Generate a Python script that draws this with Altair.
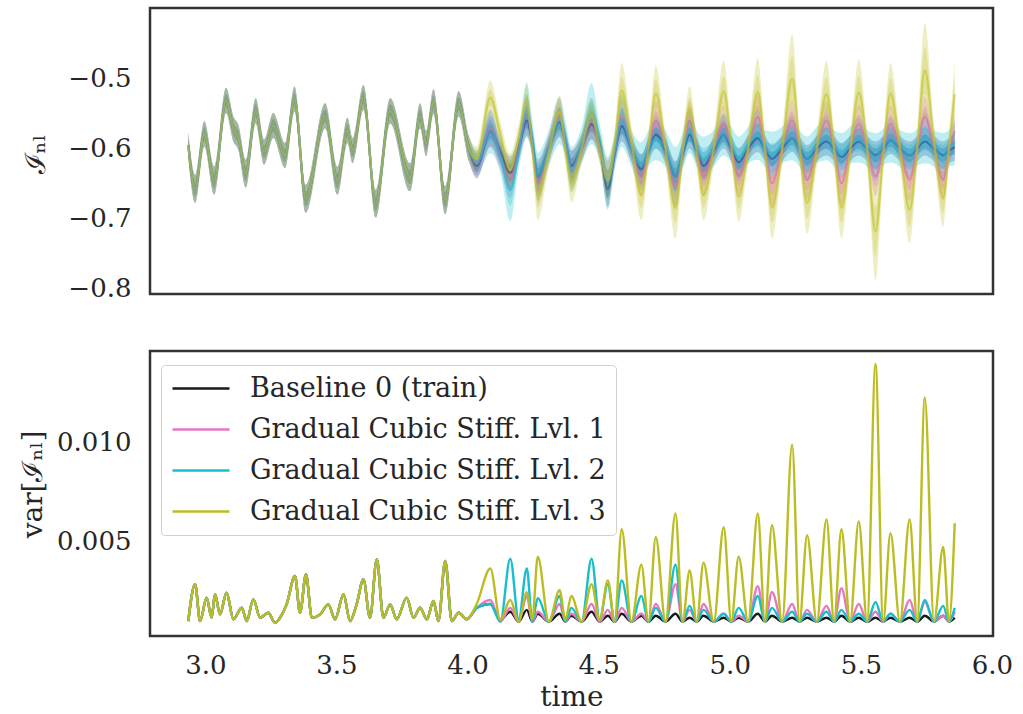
import altair as alt
import pandas as pd

series = ["Baseline 0 (train)", "Gradual Cubic Stiff. Lvl. 1",
          "Gradual Cubic Stiff. Lvl. 2", "Gradual Cubic Stiff. Lvl. 3"]
line_colors = ["#1a1a1a", "#e377c2", "#17becf", "#bcbd22"]
band_colors = ["#2f4594", "#e06a9e", "#17becf", "#c2c22a"]

# ---- shared history (all runs identical before ~4.03) ----
t_early = [2.935, 2.961, 2.996, 3.034, 3.079, 3.107, 3.126, 3.154, 3.192, 3.224,
           3.259, 3.304, 3.340, 3.383, 3.457, 3.504, 3.542, 3.562, 3.603, 3.650,
           3.705, 3.781, 3.819, 3.842, 3.870, 3.915, 3.966, 4.005]
mean_early = [-0.595, -0.658, -0.579, -0.646, -0.531, -0.572, -0.584, -0.636, -0.546, -0.605,
              -0.567, -0.610, -0.529, -0.672, -0.553, -0.646, -0.574, -0.603, -0.527, -0.679,
              -0.546, -0.641, -0.553, -0.593, -0.533, -0.674, -0.536, -0.600]
sigma_early = [0.009, 0.010, 0.009, 0.010, 0.009, 0.009, 0.009, 0.010, 0.009, 0.009,
               0.009, 0.009, 0.009, 0.010, 0.009, 0.010, 0.009, 0.009, 0.009, 0.010,
               0.009, 0.010, 0.009, 0.009, 0.009, 0.010, 0.009, 0.009]

t_var_early = [2.935, 2.961, 2.980, 3.005, 3.024, 3.037, 3.056, 3.081, 3.107, 3.139,
               3.158, 3.183, 3.209, 3.240, 3.266, 3.285, 3.310, 3.342, 3.361, 3.384,
               3.406, 3.438, 3.469, 3.495, 3.527, 3.552, 3.577, 3.603, 3.628, 3.654,
               3.679, 3.705, 3.730, 3.768, 3.794, 3.819, 3.845, 3.870, 3.889, 3.915,
               3.940, 3.966, 3.997]
var_early = [0.00093, 0.00280, 0.00093, 0.00212, 0.00110, 0.00229, 0.00127, 0.00237, 0.00102, 0.00161,
             0.00093, 0.00203, 0.00110, 0.00135, 0.00084, 0.00110, 0.00178, 0.00322, 0.00135, 0.00331,
             0.00110, 0.00127, 0.00178, 0.00102, 0.00229, 0.00093, 0.00178, 0.00305, 0.00110, 0.00407,
             0.00110, 0.00178, 0.00102, 0.00212, 0.00110, 0.00161, 0.00102, 0.00195, 0.00093, 0.00398,
             0.00093, 0.00135, 0.00102]

# ---- after the divergence ----
t_late = [4.035, 4.087, 4.125, 4.163, 4.195, 4.226, 4.247, 4.268, 4.310, 4.351,
          4.373, 4.396, 4.435, 4.473, 4.504, 4.535, 4.561, 4.588, 4.625, 4.663,
          4.690, 4.718, 4.755, 4.793, 4.820, 4.847, 4.874, 4.900, 4.939, 4.977,
          5.006, 5.034, 5.070, 5.107, 5.134, 5.161, 5.200, 5.238, 5.266, 5.295,
          5.332, 5.369, 5.398, 5.426, 5.459, 5.492, 5.524, 5.556, 5.585, 5.613,
          5.649, 5.686, 5.715, 5.744, 5.779, 5.814, 5.836, 5.858]

mean_b = [-0.625, -0.575, -0.605, -0.635, -0.600, -0.560, -0.592, -0.640, -0.600, -0.562,
          -0.590, -0.625, -0.598, -0.565, -0.595, -0.658, -0.608, -0.568, -0.600, -0.630,
          -0.603, -0.580, -0.603, -0.640, -0.608, -0.580, -0.603, -0.625, -0.603, -0.580,
          -0.600, -0.620, -0.600, -0.585, -0.600, -0.615, -0.600, -0.585, -0.600, -0.615,
          -0.600, -0.590, -0.600, -0.612, -0.600, -0.590, -0.600, -0.610, -0.600, -0.588,
          -0.600, -0.610, -0.600, -0.590, -0.600, -0.610, -0.603, -0.598]
mean_1 = [-0.622, -0.572, -0.610, -0.645, -0.600, -0.550, -0.590, -0.650, -0.600, -0.555,
          -0.590, -0.630, -0.600, -0.560, -0.598, -0.645, -0.605, -0.555, -0.600, -0.640,
          -0.600, -0.560, -0.600, -0.655, -0.605, -0.560, -0.600, -0.640, -0.600, -0.565,
          -0.600, -0.640, -0.600, -0.555, -0.600, -0.650, -0.600, -0.560, -0.600, -0.645,
          -0.600, -0.560, -0.600, -0.650, -0.600, -0.565, -0.600, -0.640, -0.600, -0.565,
          -0.600, -0.645, -0.600, -0.555, -0.600, -0.645, -0.605, -0.575]
mean_2 = [-0.620, -0.575, -0.610, -0.660, -0.605, -0.545, -0.585, -0.640, -0.600, -0.560,
          -0.585, -0.630, -0.595, -0.550, -0.590, -0.650, -0.605, -0.560, -0.600, -0.625,
          -0.600, -0.585, -0.600, -0.640, -0.605, -0.575, -0.600, -0.615, -0.600, -0.580,
          -0.595, -0.615, -0.595, -0.580, -0.600, -0.610, -0.595, -0.585, -0.600, -0.615,
          -0.595, -0.585, -0.600, -0.610, -0.595, -0.588, -0.600, -0.612, -0.598, -0.588,
          -0.600, -0.610, -0.598, -0.585, -0.600, -0.612, -0.600, -0.592]
mean_3 = [-0.615, -0.527, -0.580, -0.631, -0.585, -0.534, -0.600, -0.667, -0.605, -0.548,
          -0.600, -0.649, -0.600, -0.551, -0.600, -0.646, -0.595, -0.517, -0.590, -0.667,
          -0.600, -0.521, -0.600, -0.685, -0.605, -0.542, -0.605, -0.667, -0.600, -0.518,
          -0.595, -0.669, -0.600, -0.519, -0.600, -0.685, -0.600, -0.500, -0.595, -0.678,
          -0.600, -0.522, -0.600, -0.685, -0.605, -0.520, -0.600, -0.719, -0.610, -0.521,
          -0.600, -0.688, -0.600, -0.488, -0.590, -0.672, -0.600, -0.522]

sigma_b = [0.009, 0.011, 0.009, 0.012, 0.009, 0.011, 0.009, 0.012, 0.009, 0.011,
           0.009, 0.011, 0.009, 0.011, 0.009, 0.013, 0.009, 0.011, 0.009, 0.011,
           0.009, 0.010, 0.009, 0.011, 0.009, 0.010, 0.009, 0.010, 0.009, 0.010,
           0.009, 0.010, 0.009, 0.010, 0.009, 0.010, 0.009, 0.010, 0.009, 0.010,
           0.009, 0.010, 0.009, 0.010, 0.009, 0.010, 0.009, 0.010, 0.009, 0.010,
           0.009, 0.010, 0.009, 0.010, 0.009, 0.010, 0.009, 0.010]
sigma_1 = [0.009, 0.013, 0.010, 0.013, 0.010, 0.014, 0.010, 0.014, 0.010, 0.013,
           0.010, 0.013, 0.010, 0.013, 0.010, 0.014, 0.010, 0.014, 0.010, 0.014,
           0.010, 0.014, 0.010, 0.016, 0.010, 0.014, 0.010, 0.014, 0.010, 0.013,
           0.010, 0.013, 0.010, 0.016, 0.010, 0.016, 0.010, 0.014, 0.010, 0.014,
           0.010, 0.014, 0.010, 0.016, 0.010, 0.014, 0.010, 0.014, 0.010, 0.013,
           0.010, 0.015, 0.010, 0.015, 0.010, 0.013, 0.010, 0.013]
sigma_2 = [0.009, 0.016, 0.012, 0.022, 0.013, 0.020, 0.013, 0.017, 0.013, 0.017,
           0.013, 0.016, 0.013, 0.022, 0.013, 0.019, 0.013, 0.019, 0.013, 0.017,
           0.013, 0.016, 0.013, 0.021, 0.013, 0.016, 0.013, 0.016, 0.013, 0.015,
           0.013, 0.016, 0.013, 0.018, 0.013, 0.017, 0.013, 0.016, 0.013, 0.016,
           0.013, 0.016, 0.013, 0.016, 0.013, 0.016, 0.013, 0.017, 0.013, 0.016,
           0.013, 0.016, 0.013, 0.018, 0.013, 0.017, 0.013, 0.016]
sigma_3 = [0.009, 0.012, 0.010, 0.012, 0.010, 0.012, 0.010, 0.018, 0.011, 0.012,
           0.011, 0.014, 0.011, 0.012, 0.011, 0.014, 0.011, 0.020, 0.012, 0.018,
           0.012, 0.020, 0.012, 0.022, 0.012, 0.016, 0.012, 0.018, 0.012, 0.022,
           0.012, 0.018, 0.012, 0.024, 0.012, 0.022, 0.013, 0.032, 0.013, 0.022,
           0.013, 0.024, 0.013, 0.022, 0.013, 0.024, 0.014, 0.035, 0.014, 0.022,
           0.013, 0.024, 0.014, 0.034, 0.013, 0.020, 0.012, 0.024]

var_b = [0.0016, 0.0018, 0.0010, 0.0014, 0.0009, 0.0015, 0.0009, 0.0013, 0.0009, 0.0013,
         0.0009, 0.0012, 0.0009, 0.0014, 0.0009, 0.0012, 0.0009, 0.0013, 0.0009, 0.0012,
         0.0009, 0.0012, 0.0009, 0.0013, 0.0009, 0.0011, 0.0009, 0.0012, 0.0009, 0.0011,
         0.0009, 0.0011, 0.0009, 0.0013, 0.0009, 0.0012, 0.0009, 0.0011, 0.0009, 0.0011,
         0.0009, 0.0011, 0.0009, 0.0012, 0.0009, 0.0011, 0.0009, 0.0011, 0.0009, 0.0011,
         0.0009, 0.0011, 0.0009, 0.0012, 0.0009, 0.0012, 0.0009, 0.0011]
var_1 = [0.0016, 0.0020, 0.0009, 0.0016, 0.0009, 0.0022, 0.0009, 0.0014, 0.0009, 0.0018,
         0.0009, 0.0013, 0.0009, 0.0018, 0.0009, 0.0015, 0.0009, 0.0016, 0.0009, 0.0013,
         0.0009, 0.0018, 0.0009, 0.0028, 0.0009, 0.0015, 0.0009, 0.0018, 0.0009, 0.0013,
         0.0009, 0.0012, 0.0009, 0.0027, 0.0009, 0.0024, 0.0009, 0.0018, 0.0009, 0.0015,
         0.0009, 0.0017, 0.0009, 0.0026, 0.0009, 0.0018, 0.0009, 0.0014, 0.0009, 0.0013,
         0.0009, 0.0020, 0.0009, 0.0019, 0.0009, 0.0012, 0.0009, 0.0014]
var_2 = [0.0016, 0.0018, 0.0009, 0.0041, 0.0010, 0.0036, 0.0009, 0.0021, 0.0009, 0.0022,
         0.0009, 0.0016, 0.0009, 0.0041, 0.0010, 0.0028, 0.0009, 0.0030, 0.0009, 0.0022,
         0.0009, 0.0016, 0.0009, 0.0038, 0.0009, 0.0017, 0.0009, 0.0015, 0.0009, 0.0013,
         0.0009, 0.0016, 0.0009, 0.0022, 0.0009, 0.0016, 0.0009, 0.0014, 0.0009, 0.0013,
         0.0009, 0.0014, 0.0009, 0.0015, 0.0009, 0.0013, 0.0009, 0.0019, 0.0009, 0.0013,
         0.0009, 0.0015, 0.0009, 0.0020, 0.0009, 0.0017, 0.0009, 0.0016]
var_3 = [0.0018, 0.0036, 0.0010, 0.0020, 0.0009, 0.0024, 0.0010, 0.0042, 0.0009, 0.0025,
         0.0010, 0.0022, 0.0009, 0.0028, 0.0010, 0.0030, 0.0009, 0.0056, 0.0009, 0.0038,
         0.0009, 0.0052, 0.0009, 0.0064, 0.0009, 0.0035, 0.0009, 0.0039, 0.0009, 0.0057,
         0.0009, 0.0042, 0.0009, 0.0064, 0.0009, 0.0058, 0.0009, 0.0099, 0.0009, 0.0053,
         0.0009, 0.0061, 0.0009, 0.0056, 0.0009, 0.0060, 0.0009, 0.0140, 0.0009, 0.0054,
         0.0009, 0.0061, 0.0009, 0.0123, 0.0009, 0.0047, 0.0009, 0.0059]

x_ticks = [3.0, 3.5, 4.0, 4.5, 5.0, 5.5, 6.0]
y_top_ticks = [-0.8, -0.7, -0.6, -0.5]
y_bot_ticks = [0.005, 0.010]

means = [mean_b, mean_1, mean_2, mean_3]
sigmas = [sigma_b, sigma_1, sigma_2, sigma_3]
variances = [var_b, var_1, var_2, var_3]

top_rows, bot_rows = [], []
for i, s in enumerate(series):
    for t, m, sd in zip(t_early, mean_early, sigma_early):
        top_rows.append({"time": t, "series": s, "mean": m, "sigma": sd})
    for t, m, sd in zip(t_late, means[i], sigmas[i]):
        top_rows.append({"time": t, "series": s, "mean": m, "sigma": sd})
    for t, v in zip(t_var_early, var_early):
        bot_rows.append({"time": t, "series": s, "var": v})
    for t, v in zip(t_late, variances[i]):
        bot_rows.append({"time": t, "series": s, "var": v})
top_df = pd.DataFrame(top_rows)
bot_df = pd.DataFrame(bot_rows)

FONT = "DejaVu Serif"
TXT = "#262626"
x_scale = alt.Scale(domain=[2.789, 6.004], nice=False, zero=False)
y_top_scale = alt.Scale(domain=[-0.8086, -0.3986], nice=False, zero=False)
y_bot_scale = alt.Scale(domain=[0.00017, 0.01466], nice=False, zero=False)

top_color = alt.Color("series:N", scale=alt.Scale(domain=series, range=band_colors), legend=None)

top_base = alt.Chart(top_df).transform_calculate(
    lo2="datum.mean - 2*datum.sigma", hi2="datum.mean + 2*datum.sigma",
    lo1="datum.mean - datum.sigma", hi1="datum.mean + datum.sigma")

y_top_axis = alt.Axis(values=y_top_ticks, format=".1f", title="ℐₙₗ",
                      titleX=-114, titleY=146, titleAngle=-90,
                      titleAlign="center", titleBaseline="middle", titleFontSize=28)

band2 = top_base.mark_area(opacity=0.28, interpolate="monotone").encode(
    x=alt.X("time:Q", scale=x_scale, axis=None),
    y=alt.Y("lo2:Q", scale=y_top_scale, axis=y_top_axis),
    y2="hi2:Q", color=top_color)
band1 = top_base.mark_area(opacity=0.28, interpolate="monotone").encode(
    x=alt.X("time:Q", scale=x_scale, axis=None),
    y=alt.Y("lo1:Q", scale=y_top_scale),
    y2="hi1:Q", color=top_color)
mline = top_base.mark_line(opacity=0.6, strokeWidth=2.2, interpolate="monotone").encode(
    x=alt.X("time:Q", scale=x_scale, axis=None),
    y=alt.Y("mean:Q", scale=y_top_scale),
    color=top_color)

top = alt.layer(band2, band1, mline).properties(width=843, height=286)

bottom = alt.Chart(bot_df).mark_line(strokeWidth=2.4, interpolate="monotone").encode(
    x=alt.X("time:Q", scale=x_scale,
            axis=alt.Axis(values=x_ticks, format=".1f", title="time",
                          labelPadding=16, titlePadding=5, titleFontSize=28)),
    y=alt.Y("var:Q", scale=y_bot_scale,
            axis=alt.Axis(values=y_bot_ticks, format=".3f", title="var[ℐₙₗ]",
                          titleX=-117, titleY=133, titleAngle=-90,
                          titleAlign="center", titleBaseline="middle", titleFontSize=28)),
    color=alt.Color("series:N", scale=alt.Scale(domain=series, range=line_colors),
                    legend=alt.Legend(title=None, orient="none", legendX=11, legendY=14,
                                      labelFont=FONT, labelFontSize=27, labelColor=TXT,
                                      symbolType="stroke", symbolSize=3249,
                                      symbolStrokeWidth=2.5, clipHeight=27, rowPadding=13,
                                      labelOffset=19, padding=10, fillColor="white",
                                      strokeColor="#d0d0d0", cornerRadius=4, labelLimit=600)),
).properties(width=843, height=285)

chart = alt.vconcat(top, bottom, spacing=57, bounds="flush").resolve_scale(
    color="independent"
).properties(
    background="white",
    padding={"left": 17, "top": 6, "right": 5, "bottom": 5},
).configure_view(
    stroke="#333333", strokeWidth=2.5
).configure_axis(
    labelFont=FONT, labelFontSize=26, labelColor=TXT, ticks=False, domain=False,
    grid=False, titleFont=FONT, titleColor=TXT, titleFontWeight="normal", labelPadding=19
)

chart.save("out.html", embed_options={"renderer": "svg", "actions": False})
